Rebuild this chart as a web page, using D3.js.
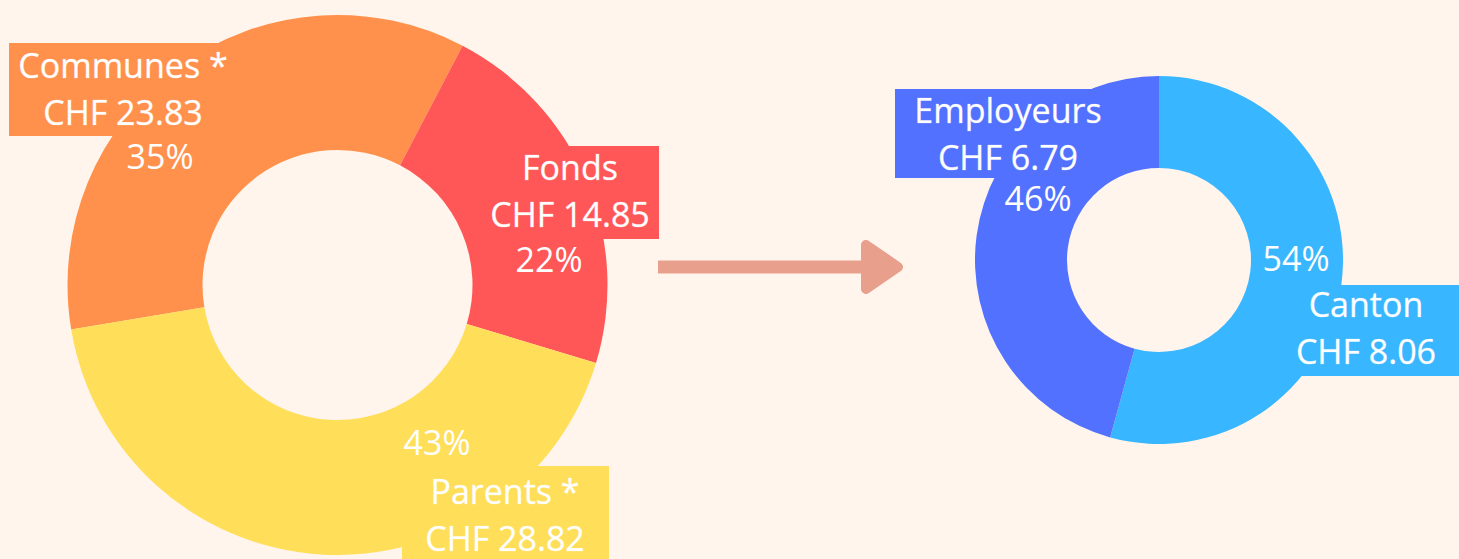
<!DOCTYPE html>
<html lang="fr">
<head>
<meta charset="utf-8">
<title>Financement</title>
<script src="https://cdn.jsdelivr.net/npm/d3@7/dist/d3.min.js"></script>
<style>
	body { margin: 0; background: #fff5ec; }
	text { font-family: "Open Sans", sans-serif; font-size: 34px; fill: #fff; }
	text.name { stroke: rgba(255, 255, 255, 0.45); stroke-width: 0.7px; }
</style>
</head>
<body>
<script>

// data
var sources = ["Communes *", "Fonds", "Parents *"];
var sourceValues = [23.83, 14.85, 28.82];
var sourceColors = ["#ff914d", "#ff5757", "#ffde59"];

var funders = ["Canton", "Employeurs"];
var funderValues = [8.06, 6.79];
var funderColors = ["#38b6ff", "#5271ff"];

// label layout (box + text anchor, page pixels)
var labelLayout = {
	"Communes *": { box: [9, 43, 237, 136], x: 123, y: 78, px: 160, py: 169 },
	"Fonds":      { box: [481, 146, 659, 239], x: 570, y: 180, px: 549, py: 272 },
	"Parents *":  { box: [402, 466, 609, 570], x: 505, y: 504, px: 437, py: 455 },
	"Employeurs": { box: [895, 89, 1110, 178], x: 1008, y: 123, px: 1038, py: 211 },
	"Canton":     { box: [1274, 285, 1465, 376], x: 1366, y: 317, px: 1296, py: 271 }
};

var width = 1459, height = 559;
var fmtPct = d3.format(".0%");
var fmtChf = function(v) { return "CHF " + d3.format(".2f")(v); };

var svg = d3.select("body").append("svg")
	.attr("width", width)
	.attr("height", height);

var drawDonut = function(names, values, colors, cx, cy, rOut, rIn, startDeg) {
	var total = d3.sum(values);
	var rows = names.map(function(n, i) { return { name: n, value: values[i], color: colors[i] }; });

	var pie = d3.pie()
		.sort(null)
		.value(function(d) { return d.value; })
		.startAngle(startDeg * Math.PI / 180)
		.endAngle(startDeg * Math.PI / 180 + 2 * Math.PI);

	var arc = d3.arc().innerRadius(rIn).outerRadius(rOut);

	var g = svg.append("g").attr("transform", "translate(" + cx + "," + cy + ")");
	g.selectAll("path")
		.data(pie(rows))
		.enter()
		.append("path")
		.attr("d", arc)
		.attr("fill", function(d) { return d.data.color; });

	var labels = svg.append("g");
	rows.forEach(function(d) {
		var L = labelLayout[d.name];
		labels.append("rect")
			.attr("x", L.box[0]).attr("y", L.box[1])
			.attr("width", L.box[2] - L.box[0])
			.attr("height", L.box[3] - L.box[1])
			.attr("fill", d.color);
		labels.append("text")
			.attr("class", "name")
			.attr("x", L.x).attr("y", L.y)
			.attr("text-anchor", "middle")
			.text(d.name);
		labels.append("text")
			.attr("class", "name")
			.attr("x", L.x).attr("y", L.y + 47)
			.attr("text-anchor", "middle")
			.text(fmtChf(d.value));
		labels.append("text")
			.attr("x", L.px).attr("y", L.py)
			.attr("text-anchor", "middle")
			.text(fmtPct(d.value / total));
	});
};

drawDonut(sources, sourceValues, sourceColors, 337.5, 285, 270, 135, -99.5);
drawDonut(funders, funderValues, funderColors, 1159, 260, 184, 92, 0);

// arrow between the two donuts
var arrow = svg.append("g").attr("fill", "#e89f8c").attr("stroke", "#e89f8c");
arrow.append("line")
	.attr("x1", 658).attr("y1", 267)
	.attr("x2", 866).attr("y2", 267)
	.attr("stroke-width", 13);
arrow.append("path")
	.attr("d", d3.line()([[866, 245], [898, 267], [866, 289]]) + "Z")
	.attr("stroke-width", 10)
	.attr("stroke-linejoin", "round");

</script>
</body>
</html>
